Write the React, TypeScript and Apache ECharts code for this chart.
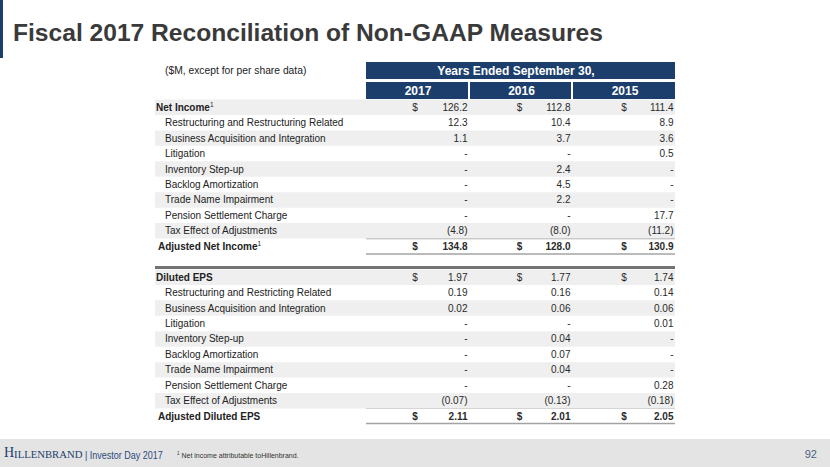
import React, { useEffect, useRef } from 'react';
import * as echarts from 'echarts';

const years = ['2017', '2016', '2015'];
const headerTitle = 'Years Ended September 30,';
const unitNote = '($M, except for per share data)';
const slideTitle = 'Fiscal 2017 Reconciliation of Non-GAAP Measures';

const incomeLabels = [
  'Net Income',
  'Restructuring and Restructuring Related',
  'Business Acquisition and Integration',
  'Litigation',
  'Inventory Step-up',
  'Backlog Amortization',
  'Trade Name Impairment',
  'Pension Settlement Charge',
  'Tax Effect of Adjustments',
  'Adjusted Net Income',
];
const income2017 = [126.2, 12.3, 1.1, null, null, null, null, null, -4.8, 134.8];
const income2016 = [112.8, 10.4, 3.7, null, 2.4, 4.5, 2.2, null, -8.0, 128.0];
const income2015 = [111.4, 8.9, 3.6, 0.5, null, null, null, 17.7, -11.2, 130.9];

const epsLabels = [
  'Diluted EPS',
  'Restructuring and Restricting Related',
  'Business Acquisition and Integration',
  'Litigation',
  'Inventory Step-up',
  'Backlog Amortization',
  'Trade Name Impairment',
  'Pension Settlement Charge',
  'Tax Effect of Adjustments',
  'Adjusted Diluted EPS',
];
const eps2017 = [1.97, 0.19, 0.02, null, null, null, null, null, -0.07, 2.11];
const eps2016 = [1.77, 0.16, 0.06, null, 0.04, 0.07, 0.04, null, -0.13, 2.01];
const eps2015 = [1.74, 0.14, 0.06, 0.01, null, null, null, 0.28, -0.18, 2.05];

const footnoteMark = ['Net Income', 'Adjusted Net Income'];
const footnoteText = ' Net income attributable toHillenbrand.';
const pageNumber = '92';

const FONT = '"Liberation Sans", Arial, Helvetica, sans-serif';
const SERIF = '"Liberation Serif", "Times New Roman", serif';
const NAVY = '#1b3e6c';
const TEXT = '#222222';

const TOP = 99.5;
const STEP = 15.45;
const TABLE_L = 366;
const TABLE_W = 309;
const COL_W = TABLE_W / 3;

type Row = { label: string; kind: 'head' | 'item' | 'total' | 'blank'; local: number; vals: (number | null)[]; dec: number };

function buildRows(): Row[] {
  const rows: Row[] = [];
  incomeLabels.forEach((l, i) => {
    rows.push({
      label: l,
      kind: i === 0 ? 'head' : i === incomeLabels.length - 1 ? 'total' : 'item',
      local: i,
      vals: [income2017[i], income2016[i], income2015[i]],
      dec: 1,
    });
  });
  rows.push({ label: '', kind: 'blank', local: -1, vals: [], dec: 0 });
  epsLabels.forEach((l, i) => {
    rows.push({
      label: l,
      kind: i === 0 ? 'head' : i === epsLabels.length - 1 ? 'total' : 'item',
      local: i,
      vals: [eps2017[i], eps2016[i], eps2015[i]],
      dec: 2,
    });
  });
  return rows;
}

function fmt(v: number | null, dec: number) {
  if (v === null || v === undefined) return '-';
  const s = Math.abs(v).toFixed(dec);
  return v < 0 ? `(${s})` : s;
}

export default function App() {
  const ref = useRef<HTMLDivElement>(null);
  useEffect(() => {
    document.body.style.margin = '0';
    const chart = echarts.init(ref.current!, null, { renderer: 'svg' });
    const rows = buildRows();
    const n = rows.length;

    const cells: { c: number; r: number; text: string; bold: boolean; dollar: boolean }[] = [];
    rows.forEach((row, r) => {
      if (row.kind === 'blank') return;
      row.vals.forEach((v, c) => {
        cells.push({
          c,
          r,
          text: fmt(v, row.dec),
          bold: row.kind === 'total',
          dollar: row.kind !== 'item',
        });
      });
    });

    const graphics: any[] = [];
    graphics.push({ type: 'rect', shape: { x: 0, y: 0, width: 3, height: 58 }, style: { fill: NAVY } });
    graphics.push({
      type: 'text', x: 13, y: 32,
      style: { text: slideTitle, fill: '#3a3a3a', fontSize: 24.6, fontWeight: 'bold', fontFamily: FONT, align: 'left', verticalAlign: 'middle' },
    });
    graphics.push({
      type: 'text', x: 165, y: 70,
      style: { text: unitNote, fill: TEXT, fontSize: 10.3, fontFamily: FONT, align: 'left', verticalAlign: 'middle' },
    });
    graphics.push({ type: 'rect', shape: { x: TABLE_L, y: 62, width: TABLE_W, height: 17 }, style: { fill: NAVY } });
    graphics.push({
      type: 'text', x: 516, y: 70.8,
      style: { text: headerTitle, fill: '#ffffff', fontSize: 12, fontWeight: 'bold', fontFamily: FONT, align: 'center', verticalAlign: 'middle' },
    });
    years.forEach((y, c) => {
      const x0 = TABLE_L + c * COL_W + (c > 0 ? 1 : 0);
      const x1 = TABLE_L + (c + 1) * COL_W - (c < 2 ? 1 : 0);
      graphics.push({ type: 'rect', shape: { x: x0, y: 82, width: x1 - x0, height: 17 }, style: { fill: NAVY } });
      graphics.push({
        type: 'text', x: (x0 + x1) / 2 + 1, y: 90.8,
        style: { text: y, fill: '#ffffff', fontSize: 12, fontWeight: 'bold', fontFamily: FONT, align: 'center', verticalAlign: 'middle' },
      });
    });
    const lineAt = (y: number) => ({
      type: 'line', shape: { x1: TABLE_L, y1: y, x2: TABLE_L + TABLE_W, y2: y },
      style: { stroke: '#a3a3a3', lineWidth: 1.5 },
    });
    graphics.push(lineAt(TOP + 9 * STEP));
    graphics.push(lineAt(TOP + 10 * STEP));
    graphics.push(lineAt(TOP + 20 * STEP - 0.5));
    graphics.push(lineAt(TOP + 21 * STEP - 0.5));
    graphics.push({
      type: 'line', shape: { x1: 155, y1: TOP + 11 * STEP - 2, x2: TABLE_L + TABLE_W, y2: TOP + 11 * STEP - 2 },
      style: { stroke: '#737373', lineWidth: 3 },
    });
    graphics.push({ type: 'rect', shape: { x: 0, y: 439, width: 830, height: 28 }, style: { fill: '#e4e4e4' } });
    graphics.push({
      type: 'text', x: 4, y: 459,
      style: {
        text: '{h|H}{r|ILLENBRAND}',
        align: 'left', verticalAlign: 'bottom',
        rich: {
          h: { fontSize: 14, lineHeight: 14, fontFamily: SERIF, fill: NAVY, verticalAlign: 'bottom' },
          r: { fontSize: 10.7, lineHeight: 10.7, fontFamily: SERIF, fill: NAVY, verticalAlign: 'bottom' },
        },
      },
    });
    graphics.push({
      type: 'text', x: 85, y: 455, scaleX: 0.9,
      style: { text: '| Investor Day 2017', fill: '#2a4a7c', fontSize: 10, fontFamily: FONT, align: 'left', verticalAlign: 'middle' },
    });
    graphics.push({
      type: 'text', x: 177, y: 455,
      style: {
        text: '{s|1}{t|' + footnoteText + '}',
        align: 'left', verticalAlign: 'middle',
        rich: {
          s: { fontSize: 4.5, lineHeight: 5, fontFamily: FONT, fill: '#333', verticalAlign: 'top' },
          t: { fontSize: 7, lineHeight: 9, fontFamily: FONT, fill: '#333' },
        },
      },
    });
    graphics.push({
      type: 'text', x: 817, y: 454,
      style: { text: pageNumber, fill: '#4d6285', fontSize: 11, fontFamily: FONT, align: 'right', verticalAlign: 'middle' },
    });

    const option: any = {
      animation: false,
      grid: { left: TABLE_L, top: TOP, width: TABLE_W, height: STEP * n },
      xAxis: { type: 'category', data: years, show: false },
      yAxis: { type: 'category', data: rows.map((_, i) => String(i)), inverse: true, show: false },
      graphic: graphics,
      series: [
        {
          type: 'custom',
          z: 1,
          silent: true,
          clip: false,
          data: rows.map((_, i) => [0, i]),
          renderItem: (params: any, api: any) => {
            const row = rows[params.dataIndex];
            const pt = api.coord([0, api.value(1)]);
            const size = api.size([1, 1]);
            const bw = size[0];
            const bh = size[1];
            const right = pt[0] - bw / 2 + bw * 3;
            const children: any[] = [];
            if (row.kind === 'blank') return { type: 'group', children };
            if (row.local % 2 === 0 && row.kind !== 'total') {
              children.push({
                type: 'rect',
                shape: { x: 155, y: pt[1] - bh / 2, width: right - 155, height: bh },
                style: { fill: '#efefef' },
              });
            }
            const bold = row.kind !== 'item';
            const x = row.kind === 'head' ? 156 : row.kind === 'total' ? 158 : 165;
            const hasMark = footnoteMark.indexOf(row.label) >= 0;
            children.push({
              type: 'text',
              x,
              y: pt[1],
              style: {
                text: hasMark ? `{b|${row.label}}{s|1}` : `{b|${row.label}}`,
                align: 'left',
                verticalAlign: 'middle',
                rich: {
                  b: { fontSize: 10, lineHeight: 12, fontFamily: FONT, fontWeight: bold ? 'bold' : 'normal', fill: TEXT },
                  s: { fontSize: 6.5, lineHeight: 7, fontFamily: FONT, fill: TEXT, verticalAlign: 'top' },
                },
              },
            });
            return { type: 'group', children };
          },
        },
        {
          type: 'custom',
          z: 2,
          silent: true,
          clip: false,
          data: cells.map((d) => [d.c, d.r]),
          renderItem: (params: any, api: any) => {
            const d = cells[params.dataIndex];
            const pt = api.coord([api.value(0), api.value(1)]);
            const bw = api.size([1, 1])[0];
            const children: any[] = [
              {
                type: 'text',
                x: pt[0] + bw / 2 - 1.5,
                y: pt[1],
                style: {
                  text: d.text, fill: '#2a2a2a', fontSize: 10, fontFamily: FONT,
                  fontWeight: d.bold ? 'bold' : 'normal', align: 'right', verticalAlign: 'middle',
                },
              },
            ];
            if (d.dollar) {
              children.push({
                type: 'text',
                x: pt[0] - 1 + (d.c - 1) * 1.5,
                y: pt[1],
                style: {
                  text: '$', fill: '#2a2a2a', fontSize: 10, fontFamily: FONT,
                  fontWeight: d.bold ? 'bold' : 'normal', align: 'center', verticalAlign: 'middle',
                },
              });
            }
            return { type: 'group', children };
          },
        },
      ],
    };
    chart.setOption(option);
    return () => chart.dispose();
  }, []);
  return <div ref={ref} style={{ position: 'fixed', left: 0, top: 0, width: 830, height: 467, background: '#ffffff' }} />;
}
